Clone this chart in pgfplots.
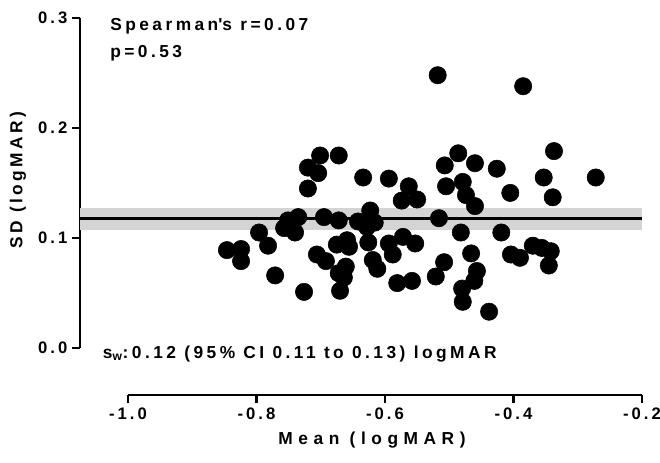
\documentclass[border=0pt]{standalone}
\usepackage{fontspec}
\setmainfont{Liberation Sans}[LetterSpace=20]
\newfontfamily\titlefont{Liberation Sans}[LetterSpace=32]
\newfontfamily\tickfont{Liberation Sans}[LetterSpace=18]
\usepackage{pgfplots}
\pgfplotsset{compat=1.18}

\begin{document}
\begin{tikzpicture}[font=\bfseries\fontsize{13}{15}\selectfont]
% page size matching the reference proportions
\useasboundingbox (-60pt,-85.5pt) rectangle (435pt,261pt);
\pgfplotsset{
  prism/.style={
    scale only axis,
    clip=false,
    tick align=outside,
    major tick length=6pt,
    axis line style={line width=2.2pt, black},
    every tick/.style={line width=2pt, black},
    tick label style={font=\tickfont\bfseries\fontsize{12.5}{14}\selectfont},
    /pgf/number format/assume math mode=true,
    /pgf/number format/fixed,
    /pgf/number format/fixed zerofill,
    /pgf/number format/precision=1,
  }
}
% main axis: y axis and data
\begin{axis}[prism,
  width=421.5pt, height=247.5pt,
  xmin=-1.0747, xmax=-0.2, ymin=0, ymax=0.3,
  axis x line=none, axis y line*=left,
  ytick={0,0.1,0.2,0.3},
]
% 95% CI band and within-subject SD
\addplot[draw=none, fill=black!17] coordinates
  {(-1.0747,0.107) (-0.2,0.107) (-0.2,0.127) (-1.0747,0.127)} -- cycle;
\addplot[black, line width=2.2pt] coordinates {(-1.0747,0.118) (-0.2,0.118)};

\addplot[only marks, mark=*, mark size=6.5pt, black] coordinates {
(-0.846,0.089) (-0.824,0.090) (-0.824,0.079) (-0.796,0.105) (-0.782,0.093)
(-0.771,0.066) (-0.757,0.109) (-0.751,0.116) (-0.735,0.119) (-0.740,0.105)
(-0.726,0.051) (-0.720,0.164) (-0.704,0.159) (-0.701,0.175) (-0.672,0.175)
(-0.720,0.145) (-0.706,0.085) (-0.692,0.079) (-0.695,0.119) (-0.672,0.116)
(-0.675,0.094) (-0.659,0.098) (-0.656,0.092) (-0.661,0.074) (-0.672,0.068)
(-0.664,0.064) (-0.670,0.052) (-0.642,0.115) (-0.634,0.155) (-0.623,0.125)
(-0.628,0.110) (-0.616,0.114) (-0.626,0.096) (-0.619,0.080) (-0.612,0.072)
(-0.594,0.154) (-0.594,0.095) (-0.588,0.085) (-0.572,0.101) (-0.553,0.095)
(-0.581,0.059) (-0.558,0.061) (-0.563,0.147) (-0.550,0.135) (-0.574,0.134)
(-0.516,0.118) (-0.507,0.166) (-0.486,0.177) (-0.460,0.168) (-0.426,0.163)
(-0.505,0.147) (-0.479,0.151) (-0.474,0.139) (-0.460,0.129) (-0.482,0.105)
(-0.419,0.105) (-0.466,0.086) (-0.508,0.078) (-0.521,0.065) (-0.457,0.070)
(-0.461,0.061) (-0.480,0.054) (-0.479,0.042) (-0.438,0.033) (-0.518,0.248)
(-0.385,0.238) (-0.337,0.179) (-0.353,0.155) (-0.272,0.155) (-0.339,0.137)
(-0.405,0.141) (-0.404,0.085) (-0.390,0.082) (-0.370,0.093) (-0.356,0.091)
(-0.342,0.088) (-0.345,0.075)
};
\end{axis}

% offset x axis
\begin{axis}[prism,
  at={(36pt,-35.25pt)}, anchor=south west,
  width=385.5pt, height=10pt,
  xmin=-1, xmax=-0.2, ymin=0, ymax=1,
  axis y line=none, axis x line*=bottom,
  xtick={-1,-0.8,-0.6,-0.4,-0.2},
]
\end{axis}

% annotations
\node[anchor=base west, inner sep=0pt] at (22.5pt,238.5pt) {Spearman\textquotesingle s r=0.07};
\node[anchor=base west, inner sep=0pt] at (22.5pt,218.25pt) {p=0.53};
\node[anchor=base west, inner sep=0pt] at (17pt,-7.5pt)
  {s\textsubscript{w}:0.12 (95\% CI 0.11 to 0.13) logMAR};
\node[rotate=90, inner sep=0pt] at (-46.5pt,126pt) {SD (logMAR)};
\node[inner sep=0pt, font=\titlefont\bfseries\fontsize{13}{15}\selectfont] at (219pt,-69pt) {Mean (logMAR)};
\end{tikzpicture}
\end{document}
